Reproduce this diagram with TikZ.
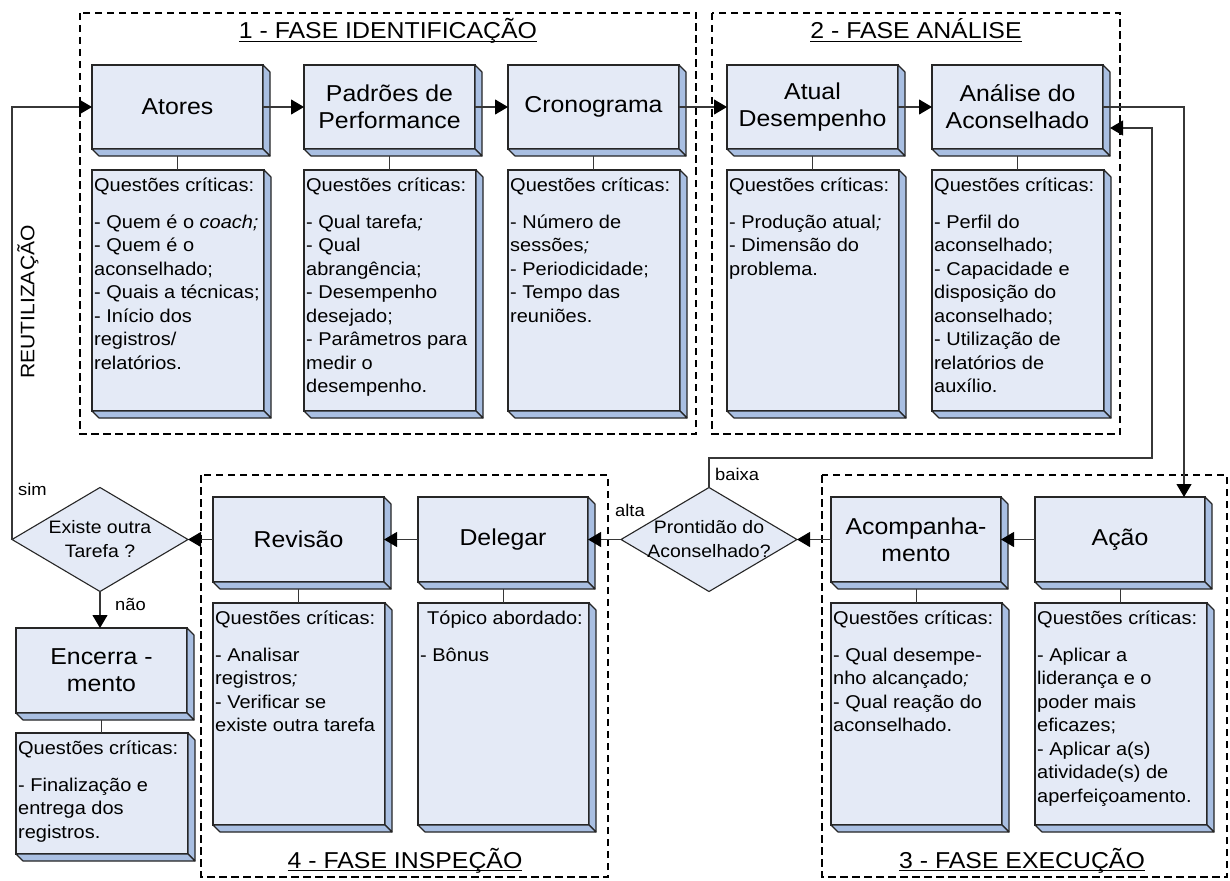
\documentclass[tikz,border=0pt]{standalone}
\usepackage{fontspec}
\setmainfont{Liberation Sans}[FakeStretch=1.08]
\usetikzlibrary{shapes.geometric,arrows.meta}

\definecolor{facefront}{RGB}{228,234,246}
\definecolor{faceside}{RGB}{169,191,226}
\definecolor{edge}{RGB}{38,38,38}
\definecolor{wire}{RGB}{55,55,55}

% underline at a fixed depth, so that a cedilla may cross it
\newsavebox\ulbox
\newcommand{\ulined}[1]{\sbox\ulbox{#1}\rlap{\rule[-3.4pt]{\wd\ulbox}{1.5pt}}\usebox\ulbox}
% strut that fixes the first baseline of a question list
\newcommand{\hd}{\rule{0pt}{21pt}}
% right and bottom faces of an extruded box
\newcommand{\depthfaces}[1]{%
  \filldraw[sideface] (#1.north east) -- ++(7,7) -- ([shift={(7,7)}]#1.south east) -- (#1.south east) -- cycle;
  \filldraw[sideface] (#1.south west) -- (#1.south east) -- ([shift={(7,7)}]#1.south east) -- ([shift={(7,7)}]#1.south west) -- cycle;}

\tikzset{
  stage/.style 2 args={rectangle, draw=edge, line width=1.1pt, fill=facefront,
    inner sep=0pt, outer sep=0pt, anchor=north west, align=center,
    minimum width=#1pt, minimum height=#2pt, font=\fontsize{23}{27}\selectfont},
  panel/.style 2 args={rectangle, draw=edge, line width=1.1pt, fill=facefront,
    inner sep=0pt, outer sep=0pt, anchor=north west,
    minimum width=#1pt, minimum height=#2pt},
  sideface/.style={draw=edge, line width=1.1pt, fill=faceside, line join=round},
  qtext/.style={anchor=north west, inner sep=0pt, align=left, font=\fontsize{18.5}{23.5}\selectfont},
  phase/.style={draw=black, line width=1.5pt, dash pattern=on 7.5pt off 4.5pt},
  title/.style={anchor=base, inner sep=0pt, font=\fontsize{23}{27}\selectfont},
  decision/.style={diamond, draw=edge, line width=1.1pt, fill=facefront,
    minimum width=176pt, minimum height=104pt, inner sep=0pt, outer sep=0pt},
  dtext/.style={align=center, inner sep=0pt, font=\fontsize{18}{24}\selectfont},
  flow/.style={draw=wire, line width=1.1pt, -{Triangle[length=13pt,width=15pt,color=black]}},
  link/.style={draw=wire, line width=1pt},
  tag/.style={anchor=base west, inner sep=0pt, font=\fontsize{17}{20}\selectfont},
}

\begin{document}
\begin{tikzpicture}[x=1pt,y=-1pt]
\useasboundingbox (0,0) rectangle (1230,880);
\fill[white] (0,0) rectangle (1230,880);

% phase frames
\draw[phase] (80,13) rectangle (696,434);
\draw[phase] (712,13) rectangle (1120,434);
\draw[phase] (201,475) rectangle (608,877);
\draw[phase] (822,475) rectangle (1227,877);

\node[title] (t1) at (388,39) {\ulined{1 - FASE IDENTIFICAÇÃO}};
\node[title] (t2) at (916,39) {\ulined{2 - FASE ANÁLISE}};
\node[title] (t4) at (405,868) {\ulined{4 - FASE INSPEÇÃO}};
\node[title] (t3) at (1022,868) {\ulined{3 - FASE EXECUÇÃO}};

% stage boxes
\node[stage={171}{84}] (atores) at (92,65) {Atores};
\node[stage={171}{84}] (padroes) at (304,65) {Padrões de\\Performance};
\node[stage={171}{84}] (crono) at (508,65) {Cronograma};
\node[stage={171}{84}] (atual) at (727,65) {Atual\\Desempenho};
\node[stage={171}{84}] (analise) at (932,65) {Análise do\\Aconselhado};
\node[stage={171}{85}] (revisao) at (213,497) {Revisão};
\node[stage={170}{85}] (delegar) at (418,497) {Delegar};
\node[stage={170}{85}] (acomp) at (831,497) {Acompanha-\\mento};
\node[stage={170}{85}] (acao) at (1035,497) {Ação};
\node[stage={171}{85}] (encerr) at (16,628) {Encerra -\\mento};
\foreach \b in {atores,padroes,crono,atual,analise,revisao,delegar,acomp,acao,encerr}{\depthfaces{\b}}

% question panels
\node[panel={172}{241}] (qatores) at (92,170) {};
\node[panel={172}{241}] (qpadroes) at (304,170) {};
\node[panel={172}{241}] (qcrono) at (508,170) {};
\node[panel={172}{241}] (qatual) at (727,170) {};
\node[panel={172}{241}] (qanalise) at (932,170) {};
\node[panel={172}{222}] (qrevisao) at (213,603) {};
\node[panel={171}{222}] (qdelegar) at (418,603) {};
\node[panel={171}{222}] (qacomp) at (831,603) {};
\node[panel={172}{222}] (qacao) at (1035,603) {};
\node[panel={172}{121}] (qencerr) at (16,733) {};
\foreach \b in {qatores,qpadroes,qcrono,qatual,qanalise,qrevisao,qdelegar,qacomp,qacao,qencerr}{\depthfaces{\b}}

\node[qtext] (tatores) at ([xshift=2pt]qatores.north west) {\hd Questões críticas:\\[13.5pt]
  - Quem é o \textit{coach;}\\- Quem é o\\aconselhado;\\- Quais a técnicas;\\- Início dos\\registros/\\relatórios.};
\node[qtext] (tpadroes) at ([xshift=2pt]qpadroes.north west) {\hd Questões críticas:\\[13.5pt]
  - Qual tarefa\textit{;}\\- Qual\\abrangência;\\- Desempenho\\desejado;\\- Parâmetros para\\medir o\\desempenho.};
\node[qtext] (tcrono) at ([xshift=2pt]qcrono.north west) {\hd Questões críticas:\\[13.5pt]
  - Número de\\sessões\textit{;}\\- Periodicidade;\\- Tempo das\\reuniões.};
\node[qtext] (tatual) at ([xshift=2pt]qatual.north west) {\hd Questões críticas:\\[13.5pt]
  - Produção atual\textit{;}\\- Dimensão do\\problema.};
\node[qtext] (tanalise) at ([xshift=2pt]qanalise.north west) {\hd Questões críticas:\\[13.5pt]
  - Perfil do\\aconselhado;\\- Capacidade e\\disposição do\\aconselhado;\\- Utilização de\\relatórios de\\auxílio.};
\node[qtext] (trevisao) at ([xshift=2pt]qrevisao.north west) {\hd Questões críticas:\\[13.5pt]
  - Analisar\\registros\textit{;}\\- Verificar se\\existe outra tarefa};
\node[qtext] (tdelegar) at ([xshift=2pt]qdelegar.north west) {\hd\hspace*{7pt}Tópico abordado:\\[13.5pt]
  - Bônus};
\node[qtext] (tacomp) at ([xshift=2pt]qacomp.north west) {\hd Questões críticas:\\[13.5pt]
  - Qual desempe-\\nho alcançado\textit{;}\\- Qual reação do\\aconselhado.};
\node[qtext] (tacao) at ([xshift=2pt]qacao.north west) {\hd Questões críticas:\\[13.5pt]
  - Aplicar a\\liderança e o\\poder mais\\eficazes;\\- Aplicar a(s)\\atividade(s) de\\aperfeiçoamento.};
\node[qtext] (tencerr) at ([xshift=2pt]qencerr.north west) {\hd Questões críticas:\\[13.5pt]
  - Finalização e\\entrega dos\\registros.};

% stage-to-panel ties
\foreach \b in {atores,padroes,crono,atual,analise,revisao,delegar,acomp,acao,encerr}{
  \draw[link] ([yshift=-7pt]\b.south) -- (\b.south |- q\b.north);}

% decisions
\node[decision] (existe) at (100,539.5) {};
\node[dtext] (existe-t) at (existe.center) {Existe outra\\Tarefa ?};
\node[decision] (prontidao) at (709,539.5) {};
\node[dtext] (prontidao-t) at (prontidao.center) {Prontidão do\\Aconselhado?};

% flow
\coordinate (loopturn) at (1152,458);
\draw[flow] (atores.east) -- (padroes.west);
\draw[flow] (padroes.east) -- (crono.west);
\draw[flow] (crono.east) -- (atual.west);
\draw[flow] (atual.east) -- (analise.west);
\draw[flow] (analise.east) -| ([xshift=-21pt]acao.north east);
\draw[flow] (acao.west) -- (acomp.east);
\draw[flow] (acomp.west) -- (prontidao.east);
\draw[flow] (prontidao.west) -- (delegar.east);
\draw[flow] (prontidao.north) |- (loopturn) |- ([shift={(7,21)}]analise.east);
\draw[flow] (delegar.west) -- (revisao.east);
\draw[flow] (revisao.west) -- (existe.east);
\draw[flow] (existe.south) -- (existe.south |- encerr.north);
\draw[flow] (existe.west) |- (atores.west);

% labels
\node[rotate=90, inner sep=0pt, font=\fontsize{19.5}{22}\selectfont] (reuse) at (28,302) {REUTILIZAÇÃO};
\node[tag] (lsim) at (18,495) {sim};
\node[tag] (lnao) at (115,610) {não};
\node[tag] (lbaixa) at (715,480) {baixa};
\node[tag] (lalta) at (615,516) {alta};
\end{tikzpicture}
\end{document}
